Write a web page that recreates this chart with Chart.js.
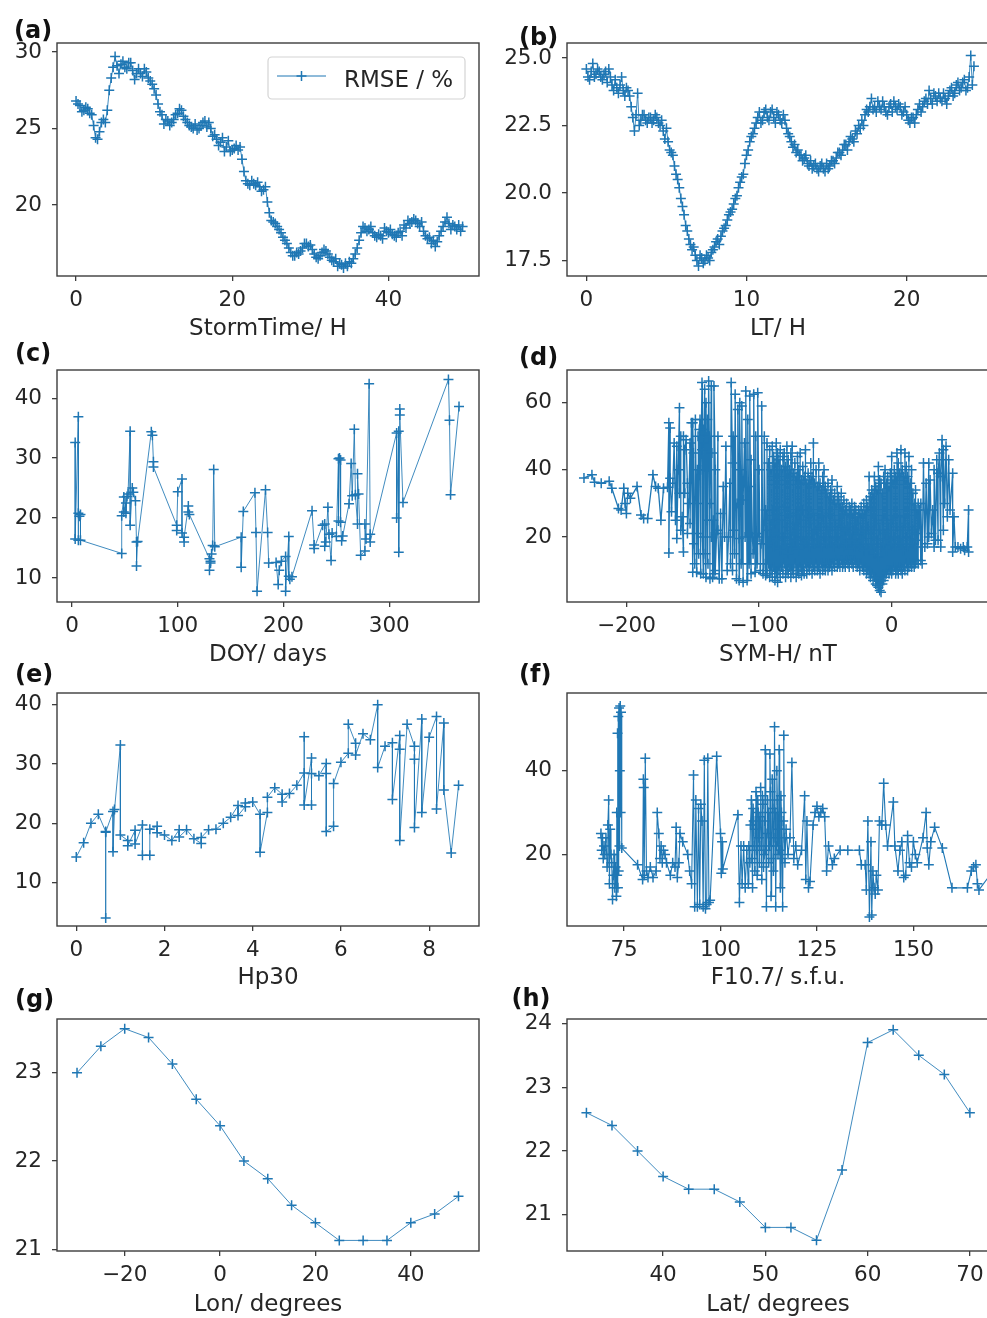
<!DOCTYPE html>
<html><head><meta charset="utf-8">
<script src="https://cdn.jsdelivr.net/npm/chart.js@4.4.1/dist/chart.umd.min.js"></script>
<style>
html,body{margin:0;padding:0;background:#fff;overflow:hidden;width:987px;height:1318px;}
#wrap{position:relative;width:987px;height:1318px;overflow:hidden;background:#fff;}
#wrap canvas{position:absolute;}
.lab{position:absolute;font-family:'DejaVu Sans';font-weight:bold;font-size:24px;line-height:1;color:#111;white-space:nowrap;z-index:5;}
</style></head><body><div id="wrap"></div>
<script>
// ---------- (a) storm time ----------
const stormTime = [0,0.25,0.5,0.75,1,1.25,1.5,1.75,2,2.25,2.5,2.75,3,3.25,3.5,3.75,4,4.25,4.5,4.75,5,5.25,5.5,5.75,6,6.25,6.5,6.75,7,7.25,7.5,7.75,8,8.25,8.5,8.75,9,9.25,9.5,9.75,
10,10.25,10.5,10.75,11,11.25,11.5,11.75,12,12.25,12.5,12.75,13,13.25,13.5,13.75,14,14.25,14.5,14.75,15,15.25,15.5,15.75,16,16.25,16.5,16.75,17,17.25,17.5,17.75,18,18.25,18.5,18.75,19,19.25,19.5,19.75,
20,20.25,20.5,20.75,21,21.25,21.5,21.75,22,22.25,22.5,22.75,23,23.25,23.5,23.75,24,24.25,24.5,24.75,25,25.25,25.5,25.75,26,26.25,26.5,26.75,27,27.25,27.5,27.75,28,28.25,28.5,28.75,29,29.25,29.5,29.75,
30,30.25,30.5,30.75,31,31.25,31.5,31.75,32,32.25,32.5,32.75,33,33.25,33.5,33.75,34,34.25,34.5,34.75,35,35.25,35.5,35.75,36,36.25,36.5,36.75,37,37.25,37.5,37.75,38,38.25,38.5,38.75,39,39.25,39.5,39.75,
40,40.25,40.5,40.75,41,41.25,41.5,41.75,42,42.25,42.5,42.75,43,43.25,43.5,43.75,44,44.25,44.5,44.75,45,45.25,45.5,45.75,46,46.25,46.5,46.75,47,47.25,47.5,47.75,48,48.25,48.5,48.75,49,49.25,49.5];
const rmseStorm = [26.8,26.6,26.5,26.1,26.2,26.4,26.3,26.0,25.9,25.2,
24.4,24.3,24.8,25.4,25.6,25.4,26.2,27.5,28.3,29.0,
29.7,29.1,28.6,29.2,29.4,29.0,28.9,29.3,29.3,28.8,
28.2,28.6,28.9,28.6,28.4,28.9,28.7,28.3,28.1,27.9,
27.6,27.2,26.6,26.1,25.9,25.3,25.6,25.5,25.2,25.4,
25.6,25.9,26.0,26.3,26.2,25.8,25.6,25.4,25.2,25.1,
25.0,25.3,24.9,25.0,25.2,25.4,25.5,25.1,25.4,25.0,
24.5,24.6,24.3,23.9,24.1,24.4,23.5,23.8,24.2,23.5,
23.6,23.7,23.9,23.6,23.8,23.0,22.2,21.6,21.4,21.3,
21.6,21.4,21.3,21.5,21.2,20.9,21.0,21.2,20.2,19.5,
19.0,18.9,18.8,18.6,18.4,18.2,17.9,17.7,17.5,17.2,
16.9,16.7,16.7,16.9,16.8,17.0,17.2,17.5,17.5,17.3,
17.4,17.1,16.8,16.6,16.5,16.7,16.9,17.1,17.0,16.8,
16.6,16.4,16.3,16.5,16.0,16.2,16.1,15.9,16.2,16.0,
16.3,16.2,16.5,16.8,17.2,17.7,18.2,18.6,18.5,18.3,
18.4,18.6,18.2,18.0,17.9,18.1,18.0,17.8,18.5,18.3,
18.2,18.4,18.1,18.0,17.9,18.2,18.3,18.0,18.7,18.5,
19.0,18.8,18.9,19.1,19.0,18.8,18.6,18.9,18.3,18.0,
17.8,17.9,17.5,17.7,17.3,17.6,18.0,18.3,18.6,18.9,
19.2,18.8,18.4,18.7,18.6,18.4,18.7,18.3,18.6];

// ---------- (b) local time ----------
const localTime = [0,0.1,0.2,0.3,0.4,0.5,0.6,0.7,0.8,0.9,1,1.1,1.2,1.3,1.4,1.5,1.6,1.7,1.8,1.9,2,2.1,2.2,2.3,2.4,2.5,2.6,2.7,2.8,2.9,3,3.1,3.2,3.3,3.4,3.5,3.6,3.7,3.8,3.9,
4,4.1,4.2,4.3,4.4,4.5,4.6,4.7,4.8,4.9,5,5.1,5.2,5.3,5.4,5.5,5.6,5.7,5.8,5.9,6,6.1,6.2,6.3,6.4,6.5,6.6,6.7,6.8,6.9,7,7.1,7.2,7.3,7.4,7.5,7.6,7.7,7.8,7.9,
8,8.1,8.2,8.3,8.4,8.5,8.6,8.7,8.8,8.9,9,9.1,9.2,9.3,9.4,9.5,9.6,9.7,9.8,9.9,10,10.1,10.2,10.3,10.4,10.5,10.6,10.7,10.8,10.9,11,11.1,11.2,11.3,11.4,11.5,11.6,11.7,11.8,11.9,
12,12.1,12.2,12.3,12.4,12.5,12.6,12.7,12.8,12.9,13,13.1,13.2,13.3,13.4,13.5,13.6,13.7,13.8,13.9,14,14.1,14.2,14.3,14.4,14.5,14.6,14.7,14.8,14.9,15,15.1,15.2,15.3,15.4,15.5,15.6,15.7,15.8,15.9,
16,16.1,16.2,16.3,16.4,16.5,16.6,16.7,16.8,16.9,17,17.1,17.2,17.3,17.4,17.5,17.6,17.7,17.8,17.9,18,18.1,18.2,18.3,18.4,18.5,18.6,18.7,18.8,18.9,19,19.1,19.2,19.3,19.4,19.5,19.6,19.7,19.8,19.9,
20,20.1,20.2,20.3,20.4,20.5,20.6,20.7,20.8,20.9,21,21.1,21.2,21.3,21.4,21.5,21.6,21.7,21.8,21.9,22,22.1,22.2,22.3,22.4,22.5,22.6,22.7,22.8,22.9,23,23.1,23.2,23.3,23.4,23.5,23.6,23.7,23.8,23.9,
24,24.1,24.2];
const rmseLT = [24.6,24.3,24.2,24.5,24.8,24.3,24.4,24.6,24.5,24.3,
24.2,24.4,24.5,24.1,24.6,24.3,24.0,23.8,24.2,23.9,
23.7,24.0,24.3,23.8,23.6,23.9,23.8,23.6,23.2,22.8,
22.3,22.9,23.7,22.5,22.7,22.9,22.9,22.7,22.6,22.8,
22.8,22.6,22.7,22.9,22.8,22.6,22.5,22.7,22.3,22.0,
22.4,21.9,21.6,21.5,21.4,21.0,20.7,20.5,20.2,19.8,
19.5,19.2,18.8,18.6,18.3,18.1,17.9,18.0,17.7,17.5,
17.3,17.7,17.6,17.4,17.5,17.7,17.6,17.5,17.8,17.9,
18.0,18.2,18.3,18.1,18.4,18.6,18.7,18.8,19.0,19.2,
19.3,19.4,19.6,19.8,19.9,20.2,20.4,20.6,20.7,21.1,
21.4,21.6,21.9,22.1,22.2,22.4,22.6,22.8,23.0,22.6,
22.7,23.0,23.1,22.8,22.7,23.0,23.1,22.8,22.6,23.0,
22.9,22.7,22.6,22.9,22.7,22.4,22.2,22.1,21.9,21.7,
21.8,21.5,21.6,21.4,21.4,21.2,21.3,21.4,21.1,21.0,
21.2,20.9,21.0,21.1,20.9,20.8,21.0,21.1,20.9,20.8,
21.1,20.9,21.0,21.2,21.2,21.1,21.3,21.5,21.5,21.4,
21.6,21.8,21.8,21.6,21.9,22.1,22.0,21.9,22.3,22.2,
22.5,22.4,22.7,22.5,22.9,23.1,23.0,23.2,23.5,23.1,
23.2,23.0,23.4,23.2,23.1,23.4,23.2,23.0,22.9,23.2,
23.3,23.0,23.4,23.2,23.1,23.3,23.2,22.9,23.0,23.2,
22.9,22.7,22.6,22.8,22.8,22.6,22.9,23.1,23.3,23.0,
23.2,23.4,23.5,23.3,23.8,23.5,23.3,23.7,23.6,23.4,
23.7,23.5,23.4,23.7,23.5,23.3,23.6,23.8,23.9,23.6,
23.7,24.0,24.1,23.8,23.9,24.1,24.2,23.8,23.9,24.3,
25.1,24.0,24.7];

// ---------- (c) day of year ----------
const doy = [3,3,6,6,6,7,8,8,47,47,49,49,51,51,52,53,55,55,57,58,60,61,61,62,75,76,77,77,99,99,100,104,104,106,106,110,110,111,130,130,131,131,132,133,134,135,160,160,162,173,174,175,183,185,186,193,195,196,198,202,202,205,205,206,208,227,229,229,237,239,239,240,242,243,245,246,250,252,252,253,254,254,255,256,262,264,265,267,268,270,270,271,273,277,277,278,281,282,282,307,307,309,309,310,310,313,356,357,358,366];
const rmseDoy = [32.6,16.5,36.9,16.3,20.8,20.3,20.6,16.3,14.1,20.4,23.5,21.0,22.5,20.8,23.6,24.0,34.5,18.8,25.0,24.3,22.9,16.0,12.0,16.1,34.4,33.8,29.4,28.5,18.8,17.9,24.4,26.5,17.5,16.0,16.8,22.0,21.0,20.6,13.2,11.3,12.5,12.8,14.0,15.4,28.1,15.2,16.8,11.8,21.1,24.2,17.6,7.8,24.7,17.6,12.5,12.6,8.9,11.3,12.8,13.6,7.8,16.9,10.3,9.8,10.2,21.2,15.5,14.9,18.8,19.0,15.3,16.0,21.8,17.3,12.9,17.5,16.9,29.9,19.5,30.0,29.7,19.3,16.2,17.0,22.4,29.1,23.7,34.8,23.9,19.0,27.4,24.0,13.8,14.5,19.0,16.5,42.4,17.3,16.0,34.2,20.0,34.5,14.3,38.2,37.2,22.6,43.1,36.3,23.9,38.6];

// ---------- (d) SYM-H ----------
// strong-storm side (sparse + spikes)
const symHStorm = [-232,-226,-224,-219,-213,-211,-206,-204,-202,-201,-200,-199,-197,-192,-189,-187,-184,-180,-178,-176,-174,-172,-169,
-168,-168,-167,-167,-166,-165,-164,-163,-162,-162,
-161,-160,-160,-159,-159,-158,-157,-157,-156,-156,
-155,-154,-154,-153,-152,-152,-151,-150,-150,-149.5,
-149,-148.5,-148,-147,-147,-146.5,-146,-146,-145.5,-145,
-144.5,-144,-144,-143,-143,-142.5,-142,-142,-141.5,-141,
-140.5,-140,-140,-139,-139,-138.5,-138,-137.5,-137,-137,
-136,-136,-135.5,-135,-134.5,-134,-134,-133,-133,-132,
-131,-131,-130,-129,-128,-127,-126,-125,-124,-123,
-122,-121.5,-121,-120,-120,-119.5,-119,-118.5,-118,-117,
-116.5,-116,-115,-115,-114.5,-114,-113.5,-113,-112,-112,
-111,-110.5,-110,-109,-108.5,-108,-107.5,-107,-106,-106,
-105,-104.5,-104,-103,-102.5,-102,-101.5,-101,-100,-100,
-99,-98.5,-98,-97,-96.5,-96,-95,-95];
const rmseStormSide = [37.6,38.5,36.3,36.0,36.6,34.5,28.5,28.0,34.5,30.0,27.0,33.0,31.5,35.0,26.5,25.5,25.5,38.5,35.0,34.5,25.0,34.5,34.8,
54,15.2,52.5,37.5,27.5,36,48,25,47,19.5,
40,58.5,33,50,22,26,15.5,50,33,46,
49,36,21,30,48,24,54,9.5,54,45,
18,12,55,21,9.5,40,30,50,15,52,
55,9,40,66,46,20,9,52,48,64,
15,8,60,25,55,12,66.5,50,7.5,30,
65,20,45,8,25,9,65,40,10,21,
50,22,7.5,27,7.5,35,20,47,10,20,
36,12,66,42,10,50,22,15,62.5,7.5,
30,58,7,19.5,60,40,12,59,6.5,31,
48,20,63.5,7,55,35,12,62,9,43,
20,15,62.5,9.5,50,21,12,63,20,40,
10,18,59,9,12,50,8.5,28];
// moderate/quiet core: several RMSE values for each SYM-H value
const symHCore = [-94,-93,-92,-91,-90,-89,-88,-87,-86,-85,-84,-83,-82,-81,-80,-79,-78,-77,-76,-75,-74,-73,-72,-71,-70,-69,-68,-67,-66,-65,-64,-63,-62,-61,-60,-59,-58,-57,-56,-55,-54,-53,-52,-51,-50,-49,-48,-47,-46,-45,-44,-43,-42,-41,-40,-39,-38,-37,-36,-35,-34,-33,-32,-31,-30,-29,-28,-27,-26,-25,-24,-23,-22,-21,-20,-19,-18,-17,-16,-15,-14,-13,-12,-11,-10,-9,-8,-7,-6,-5,-4,-3,-2,-1,0,1,2,3,4,5,6,7,8,9,10,11,12,13,14,15,16,17,18,19,20];
const rmseCore = [[9,48,22],[12,42,18],[8,46,25],[10,40,20],[8,47,28],[11,44,17],[7,42,24],[9,48,19],[6.5,45,27],[10,43,21],
[8,46,16],[11,40,25],[9,44,20],[12,45,29],[8,41,18],[10,47,23],[9,43,15],[11,40,26],[8,45,21],[10,47,17],
[9,39,24],[12,42,19],[8,38,27],[10,44,22],[9,40,16],[11,45,25],[8.5,37,20],[10,41,28],[9,38,18],[12,46,23],
[9,36,19],[11,39,26],[10,37,17],[12,42,24],[9,38,21],[11,48,27],[10,36,18],[12,40,22],[10,35,25],[11,42,19],
[9,36,23],[12,34,17],[10,38,26],[11,40,20],[10,35,24],[12,33,18],[10,36,22],[11,32,27],[12,34,19],[10,37,23],
[12,31,17],[11,33,25],[13,30,20],[11,35,22],[12,32,18],[11,30,24],[13,33,19],[11,29,23],[12,31,17],[11,28,22],
[13,30,18],[12,27,23],[11,29,16],[13,28,21],[12,30,19],[11,27,22],[13,29,17],[12,28,24],[11,26,18],[12,28,21],
[10,27,17],[12,29,22],[11,27,19],[10,30,16],[11,28,21],[9,31,18],[10,29,23],[9,38,16],[8,32,21],[9,34,18],
[7,33,22],[8,38,15],[6,35,24],[5.5,34,19],[5,41,14],[4,37,22],[3.5,36,17],[6,33,25],[7,38,18],[8,40,21],
[9,36,16],[10,38,24],[9,35,19],[10,39,22],[9,44,18],[10,37,25],[11,40,20],[9,38,17],[10,45,23],[9,42,19],
[11,39,26],[10,46,18],[9,40,22],[11,38,16],[10,45,24],[12,41,20],[10,38,17],[11,44,23],[12,36,19],[11,40,21],
[12,33,18],[11,30,22],[12,34,17],[13,28,21],[12,30,19]];
// positive SYM-H side
const symHPos = [21,22,22,23,24,25,26,27,28,28,29,30,31,32,32,33,34,35,35,36,37,37,38,39,39,40,41,42,43,44,46,46,47,48,50,52,54,55,57,58,58];
const rmsePos = [28,13,30,12,42,17,36,18,42,20,37,21,28,17,40,19,43,19,39,45,17,38,49,22,46,30,47,26,43,28,39,15.5,26,17,17,16.5,17,16,17,28,15.5];

// ---------- (e) Hp30 ----------
const hp30 = [0,0.167,0.333,0.5,0.667,0.667,0.667,0.833,0.833,0.867,1,1,1.167,1.167,1.333,1.333,1.5,1.5,1.667,1.667,1.833,1.833,2,2.167,2.333,2.333,2.5,2.667,2.833,2.833,3,3.167,3.333,3.5,3.667,3.667,3.833,3.833,4,4.167,4.167,4.333,4.333,4.5,4.667,4.667,4.833,5,5.167,5.167,5.167,5.333,5.333,5.333,5.5,5.667,5.667,5.667,5.833,5.833,6,6.167,6.167,6.333,6.333,6.5,6.667,6.833,6.833,7,7.167,7.167,7.333,7.333,7.333,7.5,7.667,7.667,7.667,7.833,7.833,8,8.167,8.167,8.333,8.333,8.5,8.667];
const rmseHp = [14.3,16.7,20.0,21.5,18.6,4.0,18.5,22.0,15.2,22.3,33.2,18.0,17.1,16.2,18.8,16.5,19.7,14.6,14.6,19.0,19.5,18.4,18.0,17.1,18.9,17.7,18.9,17.4,16.6,17.6,18.9,19.0,20.0,21.0,23.0,21.3,22.8,23.4,23.6,21.5,15.1,21.8,24.4,26.0,24.9,23.6,25.0,26.4,28.5,34.6,23.1,31.0,23.1,28.4,28.0,30.1,28.4,18.6,19.5,26.7,30.3,31.8,36.7,33.5,31.5,35.1,34.1,40.0,29.4,33.0,33.6,24.0,34.8,32.5,17.1,36.7,33.0,30.8,19.3,37.6,21.8,34.5,38.0,22.4,36.9,25.6,15.0,26.4];

// ---------- (f) F10.7 ----------
const f107 = [69,69.2,69.4,69.6,69.8,70,70.3,70.6,70.8,71,
71.2,71.4,71.6,71.8,72,72.2,72.4,72.6,72.8,73,
73.1,73.2,73.3,73.4,73.5,73.6,73.7,73.8,73.9,74,
74.1,74.2,74.4,78.5,79.8,80,80.1,80.2,80.5,80.8,
81.2,81.8,82.5,83.3,83.6,84,84.3,84.6,84.9,85.2,
85.6,86,87,87.6,88.2,88.5,88.8,89.2,89.5,90.2,
91.5,92,92.5,93,93.3,93.6,94,94.3,94.6,94.9,
95.2,95.5,95.8,96.1,96.4,96.7,97,97.3,99,100,
100.2,100.4,100.6,104.5,104.9,105.3,105.6,106,106.4,106.8,
107.2,107.35,107.6,107.75,108,108.15,108.3,108.45,108.6,108.75,
108.9,109.05,109.2,109.35,109.5,109.65,109.8,109.95,110.1,110.25,
110.4,110.55,110.7,110.85,111,111.15,111.3,111.45,111.6,111.75,
111.9,112.05,112.2,112.35,112.5,112.65,112.8,112.95,113.1,113.25,
113.4,113.55,113.7,113.85,114,114.15,114.3,114.45,114.6,114.75,
114.9,115.05,115.2,115.35,115.5,115.65,115.8,115.95,116.1,116.25,
116.4,116.55,116.7,
117,117.5,118,118.5,119,119.5,120,121,
121.8,122.1,122.4,122.8,123.2,124,124.5,125,125.5,126,
126.5,127,127.5,128,129,129.5,131,133,136,136.5,
137.5,137.8,138.2,138.6,139,139.2,139.5,139.8,140.1,140.4,
140.8,141.2,141.8,142.3,142.8,143.3,144.8,145.2,146,146.5,
147,147.5,148,148.5,149,149.5,150,150.5,151,152.5,
153.3,153.6,154,154.5,155.5,157.5,160,164,165,165.6,
166.2,166.6,167,173];
const rmseF = [25,21,24,19,22,20,24,17,27,33,
13,26,20,18,9.2,15,20,12,17,10,
30,15,49,12,53,16,55,22,40,55.5,
30,54,21.5,17.5,14,38,36,15,43,16,
14.5,17,14.5,16,30,25,19,22,18,21,
20,18,15,18,17,26.5,14.5,18,25,23,
20,16,13,39,7.5,33,7.5,31,8,32,
28,7.5,42.5,7,8,43,8.5,9,43.5,25,
15.5,23,16.5,29.5,8.5,22,13,22,12,21,
13,22,18,27,33,19,12,31,28,22,
16,26,35,21,15,33,30,24,18,29,
36,22,14,34,32,17,20,28,45,21,
7.5,25,33,30,18,22,44,35,10,19,
38,31,16,24,50.5,30,7.5,22,40,33,
20,26,45,21,12,34,30,19,7.5,28,
48.5,24,18,
26,20,24,42,19,22,17.5,21,
34,14,28,12,13.5,27,30,31.5,29,30,
31,29,16,22,17.5,19,21,21,21,17.5,
17.5,11.5,28,5,23,5.5,16,12,10.5,15,
11.5,28,27,37,27,22,32.5,22,16,21,
23,14.5,15,24.5,18,17,23,20,18,24,
30,21.5,17.5,23,26.5,21.5,12,12,16,17,
17.5,13,11.5,19];

// ---------- (g) longitude, (h) latitude ----------
const lon = [-30,-25,-20,-15,-10,-5,0,5,10,15,20,25,30,35,40,45,50];
const rmseLon = [23.0,23.3,23.5,23.4,23.1,22.7,22.4,22.0,21.8,21.5,21.3,21.1,21.1,21.1,21.3,21.4,21.6];
const lat = [32.5,35,37.5,40,42.5,45,47.5,50,52.5,55,57.5,60,62.5,65,67.5,70];
const rmseLat = [22.6,22.4,22.0,21.6,21.4,21.4,21.2,20.8,20.8,20.6,21.7,23.7,23.9,23.5,23.2,22.6];

// ---------- tick values ----------
const xTicksA = [0,20,40], yTicksA = [20,25,30];
const xTicksB = [0,10,20], yTicksB = [17.5,20,22.5,25];
const xTicksC = [0,100,200,300], yTicksC = [10,20,30,40];
const xTicksD = [-200,-100,0], yTicksD = [20,40,60];
const xTicksE = [0,2,4,6,8], yTicksE = [10,20,30,40];
const xTicksF = [75,100,125,150], yTicksF = [20,40];
const xTicksG = [-20,0,20,40], yTicksG = [21,22,23];
const xTicksH = [40,50,60,70], yTicksH = [21,22,23,24];

const panelLabels = ['(a)','(b)','(c)','(d)','(e)','(f)','(g)','(h)'];
const xTitles = ['StormTime/ H','LT/ H','DOY/ days','SYM-H/ nT','Hp30','F10.7/ s.f.u.','Lon/ degrees','Lat/ degrees'];
const legendText = 'RMSE / %';

// ---------- point builders ----------
function pairs(xs, ys){ return xs.map((v, k) => ({x:v, y:ys[k]})); }
function groups(xs, gs){ const out = []; xs.forEach((v, k) => gs[k].forEach(y => out.push({x:v, y:y}))); return out; }

const pointsA = pairs(stormTime, rmseStorm);
const pointsB = pairs(localTime, rmseLT);
const pointsC = pairs(doy, rmseDoy);
const pointsD = [].concat(pairs(symHStorm, rmseStormSide), groups(symHCore, rmseCore), pairs(symHPos, rmsePos));
const pointsE = pairs(hp30, rmseHp);
const pointsF = pairs(f107, rmseF);
const pointsG = pairs(lon, rmseLon);
const pointsH = pairs(lat, rmseLat);

// ---------- layout (positions only) ----------
const panels = [
 {pts:pointsA,xt:xTicksA,yt:yTicksA,yDec:0,xr:[-2.44,51.6],yr:[15.37,30.59],frame:[57,43,479,276],yw:57,tb:336,lab:[14,17.7],legend:true},
 {pts:pointsB,xt:xTicksB,yt:yTicksB,yDec:1,xr:[-1.21,25.14],yr:[16.93,25.56],frame:[567,43,989,276],yw:70,tb:336,lab:[519,24.7]},
 {pts:pointsC,xt:xTicksC,yt:yTicksC,yDec:0,xr:[-14.2,384.9],yr:[5.99,44.7],frame:[57,370,479,602],yw:57,tb:662,lab:[15,340.5]},
 {pts:pointsD,xt:xTicksD,yt:yTicksD,yDec:0,xr:[-244.8,73.4],yr:[0.6,69.76],frame:[567,370,989,602],yw:70,tb:662,lab:[519,344.7],lw:1.3,lc:'#1f77b4'},
 {pts:pointsE,xt:xTicksE,yt:yTicksE,yDec:0,xr:[-0.437,9.13],yr:[2.66,41.98],frame:[57,693,479,926],yw:57,tb:985,lab:[15,661.5]},
 {pts:pointsF,xt:xTicksF,yt:yTicksF,yDec:0,xr:[60.2,169.6],yr:[2.87,58.6],frame:[567,693,989,926],yw:70,tb:985,lab:[519,661.5],lw:1.1,lc:'#1f77b4'},
 {pts:pointsG,xt:xTicksG,yt:yTicksG,yDec:0,xr:[-34.2,54.3],yr:[20.98,23.61],frame:[57,1019,479,1251],yw:57,tb:1312,lab:[15,986.5]},
 {pts:pointsH,xt:xTicksH,yt:yTicksH,yDec:0,xr:[30.6,71.87],yr:[20.43,24.07],frame:[567,1019,989,1251],yw:70,tb:1312,lab:[511.5,985.7]}
];

const BLUE = '#1f77b4';
const FONT = 'DejaVu Sans';
function fmt(v, dec){ return Number(v).toFixed(dec).replace('-', '\u2212'); }

const framePlugin = {
  id:'frame',
  afterDatasetsDraw(chart){
    const {ctx, chartArea:a} = chart;
    ctx.save();
    ctx.strokeStyle = '#3d3d3d'; ctx.lineWidth = 1.4;
    ctx.strokeRect(a.left, a.top, a.right - a.left, a.bottom - a.top);
    ctx.restore();
  }
};
const legendPlugin = {
  id:'rmseLegend',
  afterDraw(chart){
    if (!chart.$showLegend) return;
    const {ctx, chartArea:a} = chart;
    const w = 197, h = 42, r = 4;
    const x0 = a.right - 14 - w, y0 = a.top + 14;
    ctx.save();
    ctx.beginPath();
    ctx.moveTo(x0 + r, y0);
    ctx.arcTo(x0 + w, y0, x0 + w, y0 + h, r);
    ctx.arcTo(x0 + w, y0 + h, x0, y0 + h, r);
    ctx.arcTo(x0, y0 + h, x0, y0, r);
    ctx.arcTo(x0, y0, x0 + w, y0, r);
    ctx.closePath();
    ctx.fillStyle = 'rgba(255,255,255,0.85)'; ctx.fill();
    ctx.strokeStyle = '#d4d4d4'; ctx.lineWidth = 1.2; ctx.stroke();
    const cy = y0 + 19;
    ctx.strokeStyle = BLUE; ctx.lineWidth = 1;
    ctx.beginPath(); ctx.moveTo(x0 + 9, cy); ctx.lineTo(x0 + 58, cy); ctx.stroke();
    ctx.lineWidth = 1.5;
    const mx = x0 + 33.5;
    ctx.beginPath(); ctx.moveTo(mx - 5, cy); ctx.lineTo(mx + 5, cy); ctx.moveTo(mx, cy - 5); ctx.lineTo(mx, cy + 5); ctx.stroke();
    ctx.fillStyle = '#262626'; ctx.font = '23px "' + FONT + '"'; ctx.textBaseline = 'alphabetic'; ctx.textAlign = 'left';
    ctx.fillText(legendText, x0 + 76, y0 + 30);
    ctx.restore();
  }
};

const wrap = document.getElementById('wrap');
panels.forEach((p, i) => {
  const [fl, ft, fr, fb] = p.frame;
  const PAD = 8;
  const cl = fl - p.yw, ct = ft - PAD;
  const cw = fr + PAD - cl;
  const ch = Math.round(p.tb + 4.7 - ct);
  const XH = ch - (fb - ct);
  const cv = document.createElement('canvas');
  cv.width = cw; cv.height = ch;
  cv.style.left = cl + 'px'; cv.style.top = ct + 'px';
  cv.style.width = cw + 'px'; cv.style.height = ch + 'px';
  wrap.appendChild(cv);

  const lab = document.createElement('div');
  lab.className = 'lab';
  lab.textContent = panelLabels[i];
  lab.style.left = p.lab[0] + 'px'; lab.style.top = p.lab[1] + 'px';
  wrap.appendChild(lab);

  const tickFont = {family: FONT, size: 21.5};
  const grid = {drawOnChartArea:false, drawTicks:true, tickLength:5, color:'#3d3d3d', lineWidth:1.3};
  const chart = new Chart(cv, {
    type:'line',
    data:{datasets:[{
      data: p.pts,
      borderColor: p.lc || 'rgba(31,119,180,0.85)', borderWidth: p.lw || 1,
      pointStyle:'cross', pointRadius:5, pointHoverRadius:5,
      pointBorderColor:BLUE, pointBackgroundColor:BLUE, pointBorderWidth:1.5,
      tension:0, fill:false
    }]},
    options:{
      responsive:false, animation:false, devicePixelRatio:1,
      events:[],
      layout:{padding:{left:0, top:PAD, right:PAD, bottom:0}, autoPadding:false},
      plugins:{legend:{display:false}, tooltip:{enabled:false}, title:{display:false}},
      scales:{
        x:{type:'linear', position:'bottom', min:p.xr[0], max:p.xr[1],
          afterFit(s){ s.height = XH; s.paddingLeft = 0; s.paddingRight = 0; s.paddingTop = 0; s.paddingBottom = 0; },
          afterBuildTicks(s){ s.ticks = p.xt.map(v => ({value:v})); },
          ticks:{font:tickFont, color:'#262626', padding:7, maxRotation:0, minRotation:0, autoSkip:false,
                 callback:(v) => fmt(v, 0)},
          grid:grid, border:{display:false},
          title:{display:true, text:xTitles[i], font:{family:FONT, size:23, lineHeight:1}, color:'#262626', padding:0}
        },
        y:{type:'linear', position:'left', min:p.yr[0], max:p.yr[1],
          afterFit(s){ s.width = p.yw; s.paddingTop = 0; s.paddingBottom = 0; s.paddingLeft = 0; s.paddingRight = 0; },
          afterBuildTicks(s){ s.ticks = p.yt.map(v => ({value:v})); },
          ticks:{font:tickFont, color:'#262626', padding:10, autoSkip:false,
                 callback:(v) => fmt(v, p.yDec)},
          grid:grid, border:{display:false}
        }
      }
    },
    plugins:[framePlugin, legendPlugin]
  });
  if (p.legend) { chart.$showLegend = true; chart.draw(); }
});
</script>
</body></html>
